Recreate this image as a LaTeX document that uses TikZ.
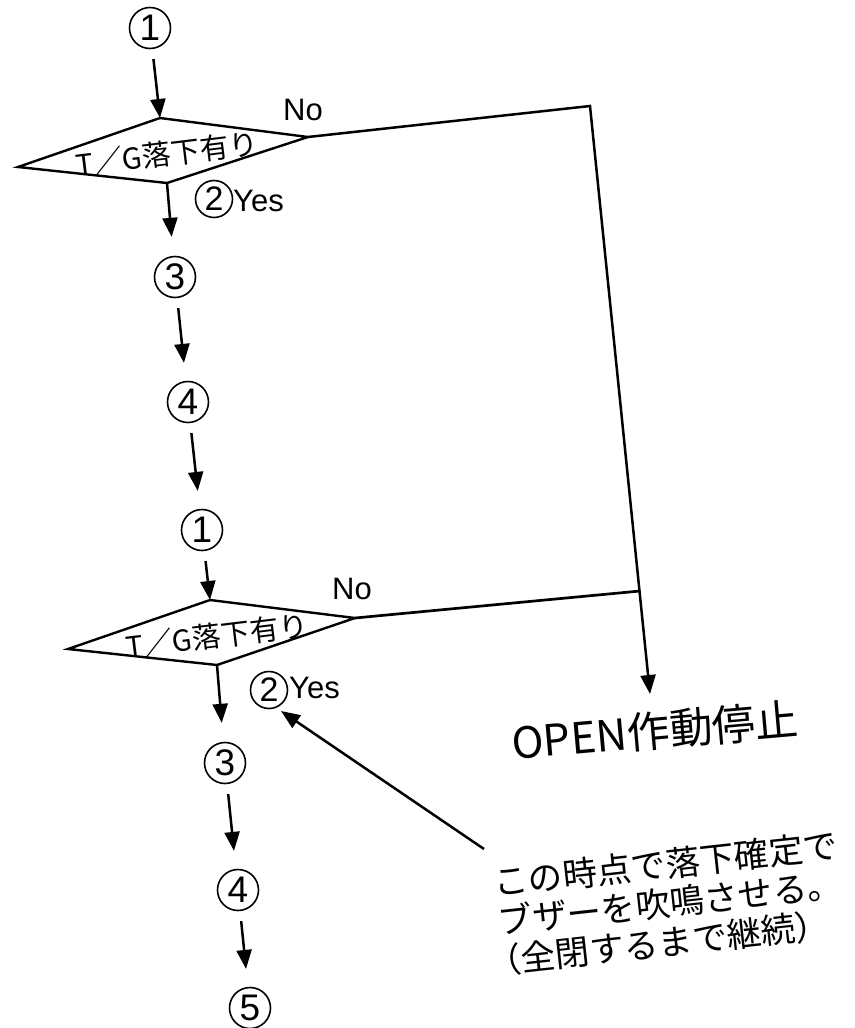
\documentclass[tikz,border=0pt]{standalone}
\usepackage{fontspec}
\setmainfont{Liberation Sans}
\newfontfamily\cjk{Noto Sans CJK JP}
\usetikzlibrary{arrows.meta,calc}
\tikzset{
  cnum/.style={circle, draw, line width=1.6pt, minimum size=41pt, inner sep=0pt, font=\fontsize{37}{37}\selectfont},
  snum/.style={circle, draw, line width=1.6pt, minimum size=37pt, inner sep=0pt, font=\fontsize{34}{34}\selectfont},
  arr/.style={line width=2.5pt, -{Triangle[length=19pt,width=15pt]}},
  flow/.style={arr, shorten <=10pt, shorten >=18pt},
  link/.style={line width=2.7pt, line join=miter},
  decision/.style={line width=2.4pt, line join=miter},
  lbl/.style={font=\fontsize{31}{31}\selectfont, inner sep=0pt},
  dtext/.style={font=\cjk\fontsize{29}{29}\selectfont, inner sep=0pt, rotate=7},
}
\begin{document}
\begin{tikzpicture}[x=1pt,y=-1pt]
\useasboundingbox (0,0) rectangle (854,1028);
\fill[white] (0,0) rectangle (854,1028);

% first block
\node[cnum] (c1a) at (150,28) {1};
\coordinate (d1t) at (160,118);
\coordinate (d1l) at (18,167);
\coordinate (d1r) at (308,137);
\coordinate (d1b) at (167,183);
\draw[decision] (d1t) -- (d1r) -- (d1b) -- (d1l) -- cycle;
\node[dtext] (q1) at (167,154) {T／G落下有り};
\node[lbl] (no1) at (303,110) {No};
\node[snum] (y1) at (214,199) {2};
\node[lbl, anchor=west] (yes1) at (233,201) {Yes};
\node[cnum] (c3a) at (175,277) {3};
\node[cnum] (c4a) at (188,402) {4};

% second block
\node[cnum] (c1b) at (202,530) {1};
\coordinate (d2t) at (210,600);
\coordinate (d2l) at (68,649);
\coordinate (d2r) at (355,618);
\coordinate (d2b) at (217,665);
\draw[decision] (d2t) -- (d2r) -- (d2b) -- (d2l) -- cycle;
\node[dtext] (q2) at (217,636) {T／G落下有り};
\node[lbl] (no2) at (352,589) {No};
\node[snum] (y2) at (269,690) {2};
\node[lbl, anchor=west] (yes2) at (289,688) {Yes};
\node[cnum] (c3b) at (225,763) {3};
\node[cnum] (c4b) at (238,890) {4};
\node[cnum] (c5b) at (250,1008) {5};

% stop
\node[inner sep=0pt, rotate=5, font=\cjk\fontsize{43}{43}\selectfont] (stop) at (655,731) {OPEN作動停止};
\coordinate (k1) at (590,106);
\coordinate (j2) at (640,591);
\coordinate (stoptip) at (650,694);

% note
\node[inner sep=0pt, rotate=6.3, align=left, font=\cjk\fontsize{34.5}{39}\selectfont] (note) at (670,903)
  {この時点で落下確定で\\ブザーを吹鳴させる。\\\hspace*{-16pt}（全閉するまで継続）};
\coordinate (notetail) at (484,849);
\coordinate (notetip) at (281,711);

% connectors
\draw[flow, shorten >=0pt] (c1a) -- (d1t);
\draw[arr, shorten >=19pt] (d1b) -- (c3a);
\draw[flow] (c3a) -- (c4a);
\draw[flow] (c4a) -- (c1b);
\draw[flow, shorten >=0pt] (c1b) -- (d2t);
\draw[arr, shorten >=19pt] (d2b) -- (c3b);
\draw[flow] (c3b) -- (c4b);
\draw[flow] (c4b) -- (c5b);
\draw[link, arr] (d1r) -- (k1) -- (stoptip);
\draw[link] (d2r) -- (j2);
\draw[arr] (notetail) -- (notetip);
\end{tikzpicture}
\end{document}
